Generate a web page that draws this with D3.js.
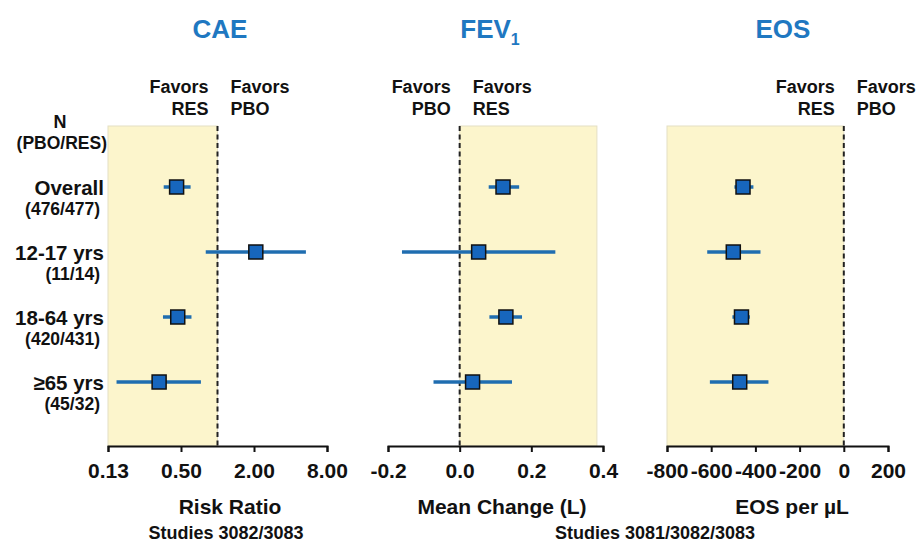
<!DOCTYPE html>
<html>
<head>
<meta charset="utf-8">
<script src="https://cdn.jsdelivr.net/npm/d3@7"></script>
<style>
  html, body { margin: 0; padding: 0; background: #fff; }
  svg { display: block; font-family: "Liberation Sans", Arial, sans-serif; font-weight: bold; }
</style>
</head>
<body>
<svg id="chart" width="917" height="542"></svg>
<script>
// Subgroups (rows, top to bottom) with N (PBO/RES)
const rowLabels = ["Overall", "12-17 yrs", "18-64 yrs", "\u226565 yrs"];
const rowCounts = ["(476/477)", "(11/14)", "(420/431)", "(45/32)"];

// CAE risk ratio: point estimate and 95% CI
const caeEst  = [0.46, 2.07, 0.47, 0.33];
const caeLow  = [0.36, 0.80, 0.355, 0.147];
const caeHigh = [0.60, 5.36, 0.61, 0.73];
const caeTicks = [0.125, 0.5, 2, 8];
const caeTickLabels = ["0.13", "0.50", "2.00", "8.00"];

// FEV1 mean change (L)
const fevEst  = [0.121, 0.053, 0.129, 0.036];
const fevLow  = [0.081, -0.161, 0.083, -0.073];
const fevHigh = [0.166, 0.267, 0.174, 0.146];
const fevTicks = [-0.2, 0, 0.2, 0.4];
const fevTickLabels = ["-0.2", "0.0", "0.2", "0.4"];

// EOS change per µL
const eosEst  = [-456, -500, -463, -471];
const eosLow  = [-495, -618, -504, -606];
const eosHigh = [-409, -377, -425, -341];
const eosTicks = [-800, -600, -400, -200, 0, 200];
const eosTickLabels = ["-800", "-600", "-400", "-200", "0", "200"];

const svg = d3.select("#chart");
const blue = "#1f78c1";
const ciColor = "#1f6db0";
const markFill = "#1766bd";
const shadeFill = "#fcf5cc";

const plotTop = 126, axisY = 446;
const y = d3.scalePoint().domain(rowLabels).range([187, 382]);

const panels = [
  {
    title: "CAE", sub: null,
    x: d3.scaleLog().base(2).domain([0.125, 8]).range([108, 327]),
    ref: 1, shade: [0.125, 1],
    est: caeEst, low: caeLow, high: caeHigh,
    ticks: caeTicks, tickLabels: caeTickLabels,
    titleX: 220, favLeft: ["Favors", "RES"], favRight: ["Favors", "PBO"],
    axisLabel: "Risk Ratio", axisLabelX: 230,
    study: "Studies 3082/3083", studyX: 226
  },
  {
    title: "FEV", sub: "1",
    x: d3.scaleLinear().domain([-0.2, 0.4]).range([388, 603]),
    ref: 0, shade: [0, 0.383],
    est: fevEst, low: fevLow, high: fevHigh,
    ticks: fevTicks, tickLabels: fevTickLabels,
    titleX: 490, favLeft: ["Favors", "PBO"], favRight: ["Favors", "RES"],
    axisLabel: "Mean Change (L)", axisLabelX: 502,
    study: "Studies 3081/3082/3083", studyX: 655
  },
  {
    title: "EOS", sub: null,
    x: d3.scaleLinear().domain([-800, 200]).range([667, 888]),
    ref: 0, shade: [-800, 0],
    est: eosEst, low: eosLow, high: eosHigh,
    ticks: eosTicks, tickLabels: eosTickLabels,
    titleX: 783, favLeft: ["Favors", "RES"], favRight: ["Favors", "PBO"],
    axisLabel: "EOS per \u00b5L", axisLabelX: 792,
    study: null
  }
];

panels.forEach(p => {
  const g = svg.append("g");
  const x = p.x;

  // favourable region
  g.append("rect")
    .attr("x", x(p.shade[0])).attr("y", plotTop)
    .attr("width", x(p.shade[1]) - x(p.shade[0]))
    .attr("height", axisY - plotTop)
    .attr("fill", shadeFill)
    .attr("stroke", "#e4dfc4").attr("stroke-width", 1);

  // no-effect reference line
  g.append("line")
    .attr("x1", x(p.ref)).attr("x2", x(p.ref))
    .attr("y1", plotTop).attr("y2", axisY)
    .attr("stroke", "#222").attr("stroke-width", 2)
    .attr("stroke-dasharray", "5,3.5");

  // x axis
  const axis = d3.axisBottom(x)
    .tickValues(p.ticks)
    .tickFormat((d, i) => p.tickLabels[i])
    .tickSize(6).tickSizeOuter(6).tickPadding(11);
  const ax = g.append("g").attr("transform", `translate(0,${axisY})`).call(axis);
  ax.select(".domain").attr("stroke", "#111").attr("stroke-width", 2);
  ax.selectAll(".tick line").attr("stroke", "#111").attr("stroke-width", 2);
  ax.selectAll(".tick text")
    .attr("fill", "#111").attr("font-size", 21).attr("font-weight", "bold")
    .attr("font-family", "'Liberation Sans', Arial, sans-serif");

  // title
  const t = g.append("text")
    .attr("x", p.titleX).attr("y", 38)
    .attr("text-anchor", "middle")
    .attr("fill", blue).attr("font-size", 26);
  t.append("tspan").text(p.title);
  if (p.sub) t.append("tspan").attr("font-size", 16).attr("dy", 7).text(p.sub);

  // favours labels
  const refX = x(p.ref);
  [0, 1].forEach(k => {
    g.append("text").attr("x", refX - 9).attr("y", 93 + k * 22)
      .attr("text-anchor", "end").attr("font-size", 18).attr("fill", "#111")
      .text(p.favLeft[k]);
    g.append("text").attr("x", refX + 13).attr("y", 93 + k * 22)
      .attr("text-anchor", "start").attr("font-size", 18).attr("fill", "#111")
      .text(p.favRight[k]);
  });

  // confidence intervals
  g.selectAll(".ci").data(rowLabels).join("line")
    .attr("x1", (d, i) => x(p.low[i])).attr("x2", (d, i) => x(p.high[i]))
    .attr("y1", d => y(d)).attr("y2", d => y(d))
    .attr("stroke", ciColor).attr("stroke-width", 3.5);

  // point estimates
  const s = 14;
  g.selectAll(".pt").data(rowLabels).join("rect")
    .attr("x", (d, i) => x(p.est[i]) - s / 2).attr("y", d => y(d) - s / 2)
    .attr("width", s).attr("height", s)
    .attr("fill", markFill).attr("stroke", "#111").attr("stroke-width", 1.5);

  // axis title and study note
  g.append("text").attr("x", p.axisLabelX).attr("y", 514)
    .attr("text-anchor", "middle").attr("font-size", 21).attr("fill", "#111")
    .text(p.axisLabel);
  if (p.study) {
    g.append("text").attr("x", p.studyX).attr("y", 539)
      .attr("text-anchor", "middle").attr("font-size", 18).attr("fill", "#111")
      .text(p.study);
  }
});

// row header and subgroup labels
svg.append("text").attr("x", 60).attr("y", 128).attr("text-anchor", "middle")
  .attr("font-size", 18).attr("fill", "#111").text("N");
svg.append("text").attr("x", 107).attr("y", 149).attr("text-anchor", "end")
  .attr("font-size", 17.5).attr("fill", "#111").text("(PBO/RES)");

svg.selectAll(".rl").data(rowLabels).join("text")
  .attr("x", 104).attr("y", d => y(d) + 8)
  .attr("text-anchor", "end").attr("font-size", 20.5).attr("fill", "#111")
  .text(d => d);
svg.selectAll(".rc").data(rowCounts).join("text")
  .attr("x", 100).attr("y", (d, i) => y(rowLabels[i]) + 28)
  .attr("text-anchor", "end").attr("font-size", 17.5).attr("fill", "#111")
  .text(d => d);
</script>
</body>
</html>
